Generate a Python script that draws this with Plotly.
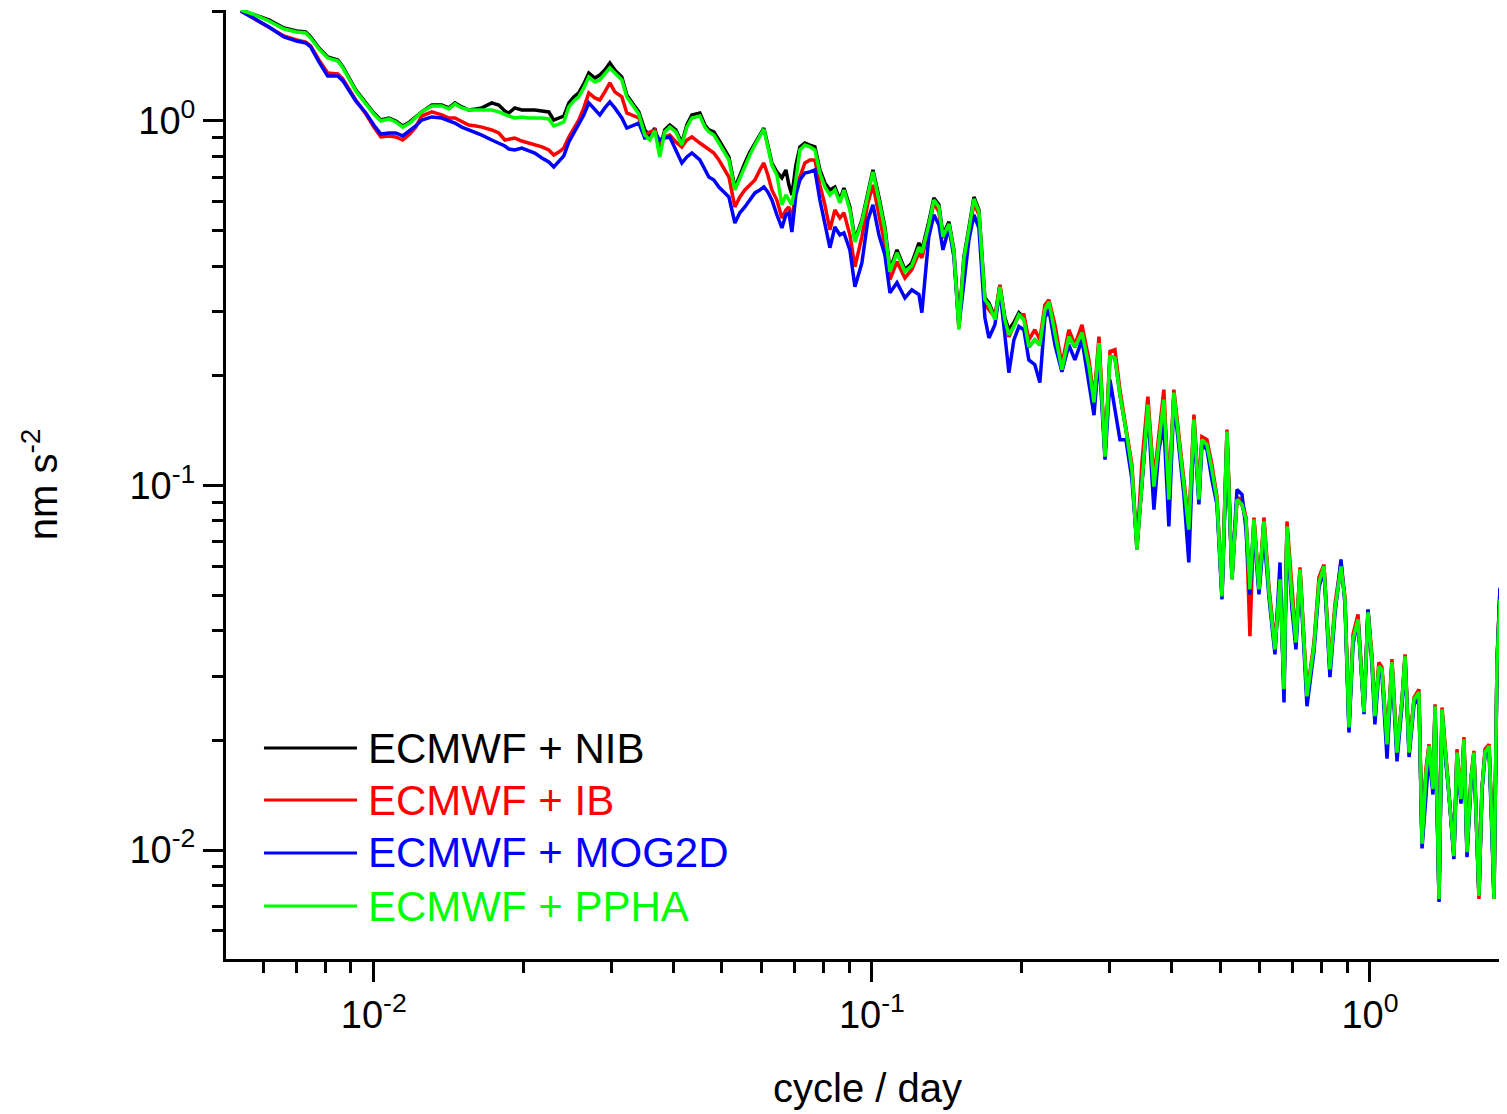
import plotly.graph_objects as go

# frequency (cycle/day), shared by all four spectra
freq = [
    0.00541, 0.00571, 0.00616, 0.00660, 0.00700, 0.00730, 0.00747, 0.00776, 0.00808, 0.00847,
    0.00867, 0.00920, 0.00964, 0.01000, 0.01033, 0.01072, 0.01107, 0.01143, 0.01181, 0.01214,
    0.01248, 0.01308, 0.01369, 0.01415, 0.01455, 0.01502, 0.01551, 0.01603, 0.01648, 0.01725,
    0.01782, 0.01833, 0.01867, 0.01919, 0.01982, 0.02047, 0.02105, 0.02175, 0.02246, 0.02298,
    0.02352, 0.02407, 0.02464, 0.02521, 0.02579, 0.02640, 0.02702, 0.02778, 0.02843, 0.02910,
    0.02978, 0.03047, 0.03148,
    0.03221, 0.03327, 0.03405, 0.03500, 0.03582, 0.03666, 0.03751, 0.03838, 0.03929, 0.04040,
    0.04154, 0.04251, 0.04351, 0.04515, 0.04621, 0.04707, 0.04817, 0.04930, 0.05045, 0.05163,
    0.05308, 0.05432, 0.05559, 0.05689, 0.05822, 0.05958, 0.06069, 0.06182, 0.06298, 0.06445,
    0.06597, 0.06720, 0.06813, 0.06909, 0.07038, 0.07169, 0.07337, 0.07508, 0.07683, 0.07864,
    0.08047, 0.08236, 0.08428, 0.08625, 0.08787, 0.09033, 0.09246, 0.09548, 0.09817, 0.1005,
    0.1033, 0.1062, 0.1087, 0.1123, 0.1165, 0.1203, 0.1243, 0.1260, 0.1301, 0.1332,
    0.1363, 0.1389, 0.1428, 0.1461, 0.1495, 0.1530, 0.1566, 0.1603, 0.1640, 0.1686,
    0.1718, 0.1766, 0.1807, 0.1849, 0.1884, 0.1928, 0.1973,
    0.2019, 0.2066, 0.2124, 0.2174, 0.2225, 0.2267, 0.2331, 0.2407, 0.2486, 0.2556,
    0.2641, 0.2728, 0.2792, 0.2857, 0.2938, 0.3006, 0.3076, 0.3148, 0.3236, 0.3327,
    0.3405, 0.3484, 0.3582, 0.3683, 0.3769, 0.3856, 0.3947, 0.4039, 0.4133, 0.4230,
    0.4328, 0.4432, 0.4535,
    0.4598, 0.4706, 0.4815, 0.4929, 0.5045, 0.5163, 0.5284, 0.5407, 0.5534, 0.5637,
    0.5741, 0.5849, 0.5986, 0.6125, 0.6269, 0.6445, 0.6597, 0.6720, 0.6813, 0.6973,
    0.7102, 0.7235, 0.7473, 0.7719, 0.7899, 0.8083, 0.8310, 0.8505, 0.8745, 0.8908,
    0.9074, 0.9245, 0.9461, 0.9727, 0.9908, 1.009, 1.023, 1.042, 1.057,
    1.082, 1.107, 1.133, 1.160, 1.176, 1.198, 1.226, 1.254, 1.272, 1.295,
    1.314, 1.338, 1.351, 1.376, 1.395, 1.421, 1.441, 1.474, 1.495, 1.523,
    1.544, 1.566, 1.595, 1.617, 1.655, 1.678, 1.702, 1.734, 1.758, 1.774,
    1.799, 1.824, 1.850, 1.867, 1.893,
]

# gravity residual spectra (nm s^-2)
psd_nib = [
    2.016, 1.966, 1.893, 1.800, 1.766, 1.755, 1.700, 1.586, 1.498, 1.470,
    1.406, 1.217, 1.121, 1.052, 1.006, 1.019, 1.000, 0.969, 0.994, 1.026,
    1.059, 1.106, 1.106, 1.086, 1.121, 1.093, 1.072, 1.079, 1.086, 1.121,
    1.106, 1.065, 1.052, 1.086, 1.072, 1.072, 1.072, 1.065, 1.059, 1.006,
    1.019, 1.032, 1.121, 1.164, 1.194, 1.264, 1.354, 1.312, 1.337, 1.380,
    1.443, 1.380, 1.320,
    1.179, 1.106, 1.059, 0.945, 0.910, 0.956, 0.833, 0.945, 0.975, 0.945,
    0.870, 0.975, 1.039, 1.052, 0.975, 0.945, 0.933, 0.887, 0.843, 0.797,
    0.655, 0.711, 0.767, 0.822, 0.870, 0.915, 0.956, 0.859, 0.767, 0.725,
    0.698, 0.734, 0.668, 0.627, 0.757, 0.849, 0.870, 0.859, 0.849, 0.734,
    0.676, 0.647, 0.659, 0.607, 0.655, 0.581, 0.472, 0.535, 0.639, 0.734,
    0.619, 0.512, 0.391, 0.443, 0.391, 0.408, 0.463, 0.443, 0.529, 0.615,
    0.589, 0.487, 0.529, 0.443, 0.276, 0.424, 0.509, 0.619, 0.570, 0.327,
    0.317, 0.289, 0.355, 0.289, 0.2675, 0.280, 0.298,
    0.289, 0.240, 0.251, 0.243, 0.3035, 0.319, 0.2625, 0.2078, 0.256, 0.240,
    0.2625, 0.212, 0.169, 0.246, 0.120, 0.2256, 0.224, 0.1775, 0.1423, 0.1106,
    0.0668, 0.1038, 0.1667, 0.0993, 0.1336, 0.1720, 0.0915, 0.1775, 0.1336, 0.0993,
    0.0757, 0.1516, 0.0915,
    0.1336, 0.1294, 0.1106, 0.0915, 0.0496, 0.1405, 0.0553, 0.0915, 0.0887, 0.0807,
    0.0519, 0.0807, 0.0519, 0.0797, 0.0509, 0.0355, 0.0553, 0.0276, 0.0772, 0.0487,
    0.0371, 0.0589, 0.0264, 0.0362, 0.0542, 0.0600, 0.0313, 0.0457, 0.0600, 0.0487,
    0.0217, 0.0378, 0.0429, 0.0239, 0.0449, 0.0334, 0.0233, 0.0319, 0.0313,
    0.0195, 0.0327, 0.0185, 0.0259, 0.0340, 0.0185, 0.0259, 0.0271, 0.0104, 0.0161,
    0.0193, 0.0147, 0.0248, 0.00734, 0.0243, 0.0178, 0.0144, 0.00962, 0.0185, 0.0138,
    0.0201, 0.00987, 0.0156, 0.0185, 0.00748, 0.0147, 0.0185, 0.0193, 0.0114, 0.00734,
    0.0327, 0.0519, 0.0259, 0.0116, 0.0300,
]

psd_ib = [
    2.003, 1.917, 1.811, 1.711, 1.668, 1.647, 1.606, 1.470, 1.354, 1.346,
    1.304, 1.142, 1.045, 0.962, 0.904, 0.910, 0.904, 0.887, 0.921, 0.962,
    1.032, 1.059, 1.039, 1.019, 1.019, 0.994, 0.975, 0.969, 0.962, 0.945,
    0.927, 0.887, 0.892, 0.898, 0.881, 0.870, 0.859, 0.849, 0.833, 0.807,
    0.822, 0.843, 0.904, 0.956, 1.006, 1.086, 1.194, 1.157, 1.142, 1.202,
    1.272, 1.202, 1.164,
    1.052, 1.032, 1.019, 0.915, 0.933, 0.945, 0.870, 0.904, 0.915, 0.876,
    0.849, 0.887, 0.904, 0.870, 0.849, 0.833, 0.817, 0.782, 0.743, 0.702,
    0.581, 0.619, 0.647, 0.668, 0.689, 0.734, 0.767, 0.711, 0.647, 0.607,
    0.542, 0.570, 0.581, 0.535, 0.647, 0.702, 0.767, 0.782, 0.782, 0.668,
    0.589, 0.503, 0.570, 0.542, 0.560, 0.487, 0.398, 0.481, 0.596, 0.668,
    0.553, 0.457, 0.367, 0.411, 0.371, 0.391, 0.435, 0.421, 0.509, 0.596,
    0.563, 0.478, 0.515, 0.435, 0.271, 0.403, 0.487, 0.596, 0.553, 0.313,
    0.3035, 0.289, 0.355, 0.281, 0.256, 0.276, 0.294,
    0.294, 0.251, 0.2675, 0.251, 0.313, 0.323, 0.276, 0.2145, 0.2675, 0.243,
    0.276, 0.221, 0.172, 0.256, 0.1216, 0.233, 0.2358, 0.1832, 0.1441, 0.1141,
    0.0676, 0.1156, 0.1753, 0.1038, 0.1379, 0.1832, 0.0944, 0.1832, 0.1379, 0.1019,
    0.0782, 0.1565, 0.0944,
    0.1361, 0.1336, 0.1141, 0.0933, 0.0503, 0.1423, 0.0560, 0.0927, 0.0915, 0.0817,
    0.0386, 0.0817, 0.0525, 0.0817, 0.0525, 0.0367, 0.0560, 0.0280, 0.0797, 0.0503,
    0.0378, 0.0596, 0.0267, 0.0371, 0.0560, 0.0607, 0.0317, 0.0472, 0.0615, 0.0493,
    0.0220, 0.0390, 0.0443, 0.0243, 0.0457, 0.0342, 0.0240, 0.0327, 0.0317,
    0.0199, 0.0334, 0.0189, 0.0259, 0.0344, 0.0189, 0.0262, 0.0276, 0.0104, 0.0167,
    0.0195, 0.0147, 0.0251, 0.00743, 0.0246, 0.0180, 0.0147, 0.00975, 0.0189, 0.0138,
    0.0204, 0.00993, 0.0158, 0.0187, 0.00734, 0.0147, 0.0189, 0.0195, 0.0116, 0.00734,
    0.0334, 0.0512, 0.0262, 0.0118, 0.0303,
]

psd_mog2d = [
    2.003, 1.917, 1.811, 1.700, 1.657, 1.637, 1.596, 1.452, 1.329, 1.329,
    1.288, 1.135, 1.052, 0.975, 0.921, 0.927, 0.927, 0.910, 0.939, 0.969,
    1.006, 1.026, 1.019, 1.000, 0.987, 0.962, 0.945, 0.933, 0.915, 0.887,
    0.870, 0.854, 0.838, 0.833, 0.843, 0.827, 0.817, 0.792, 0.772, 0.748,
    0.777, 0.802, 0.876, 0.927, 0.981, 1.039, 1.121, 1.072, 1.039, 1.086,
    1.128, 1.086, 1.019,
    0.956, 0.975, 0.987, 0.898, 0.904, 0.927, 0.887, 0.898, 0.904, 0.833,
    0.767, 0.797, 0.817, 0.782, 0.734, 0.702, 0.689, 0.659, 0.639, 0.619,
    0.525, 0.560, 0.581, 0.607, 0.635, 0.647, 0.659, 0.639, 0.607, 0.553,
    0.509, 0.553, 0.560, 0.496, 0.627, 0.689, 0.720, 0.725, 0.734, 0.607,
    0.519, 0.449, 0.512, 0.487, 0.493, 0.443, 0.351, 0.408, 0.535, 0.589,
    0.487, 0.429, 0.338, 0.360, 0.327, 0.344, 0.334, 0.298, 0.481, 0.553,
    0.519, 0.443, 0.509, 0.424, 0.273, 0.362, 0.472, 0.553, 0.509, 0.289,
    0.254, 0.276, 0.344, 0.259, 0.204, 0.251, 0.273,
    0.2675, 0.221, 0.2145, 0.1915, 0.289, 0.3035, 0.243, 0.205, 0.243, 0.221,
    0.251, 0.193, 0.156, 0.228, 0.1178, 0.1951, 0.1615, 0.1336, 0.1336, 0.1038,
    0.0689, 0.1006, 0.1615, 0.0859, 0.1255, 0.1469, 0.0772, 0.1720, 0.1294, 0.0944,
    0.0615, 0.1469, 0.0887,
    0.1294, 0.1255, 0.1038, 0.0887, 0.0487, 0.1336, 0.0560, 0.0975, 0.0944, 0.0757,
    0.0503, 0.0757, 0.0503, 0.0734, 0.0493, 0.0344, 0.0615, 0.0254, 0.0757, 0.0457,
    0.0355, 0.0570, 0.0248, 0.0351, 0.0525, 0.0589, 0.0298, 0.0443, 0.0627, 0.0472,
    0.0210, 0.0367, 0.0429, 0.0236, 0.0457, 0.0323, 0.0221, 0.0309, 0.0303,
    0.0178, 0.0317, 0.0175, 0.0251, 0.0334, 0.0180, 0.0251, 0.0259, 0.0101, 0.0138,
    0.0183, 0.0142, 0.0240, 0.00720, 0.0236, 0.0172, 0.0142, 0.00944, 0.0180, 0.0134,
    0.0195, 0.00956, 0.0152, 0.0180, 0.00748, 0.0145, 0.0183, 0.0189, 0.0111, 0.00743,
    0.0323, 0.0525, 0.0251, 0.0114, 0.0294,
]

psd_ppha = [
    2.016, 1.966, 1.881, 1.788, 1.755, 1.744, 1.689, 1.576, 1.489, 1.461,
    1.398, 1.209, 1.114, 1.045, 1.000, 1.013, 0.994, 0.962, 0.987, 1.019,
    1.059, 1.100, 1.100, 1.079, 1.114, 1.086, 1.072, 1.072, 1.072, 1.072,
    1.059, 1.039, 1.032, 1.019, 1.026, 1.019, 1.019, 1.019, 1.013, 0.969,
    0.981, 0.994, 1.093, 1.135, 1.164, 1.232, 1.320, 1.280, 1.296, 1.346,
    1.398, 1.354, 1.296,
    1.164, 1.093, 1.045, 0.915, 0.887, 0.939, 0.797, 0.933, 0.962, 0.933,
    0.859, 0.962, 1.019, 1.032, 0.962, 0.933, 0.915, 0.870, 0.827, 0.782,
    0.647, 0.698, 0.753, 0.807, 0.859, 0.904, 0.950, 0.849, 0.757, 0.711,
    0.589, 0.627, 0.607, 0.589, 0.689, 0.833, 0.859, 0.849, 0.833, 0.720,
    0.659, 0.627, 0.647, 0.596, 0.647, 0.570, 0.466, 0.529, 0.627, 0.725,
    0.607, 0.503, 0.386, 0.435, 0.386, 0.401, 0.451, 0.435, 0.519, 0.607,
    0.581, 0.481, 0.522, 0.438, 0.2675, 0.419, 0.503, 0.611, 0.563, 0.323,
    0.313, 0.285, 0.351, 0.285, 0.259, 0.273, 0.294,
    0.285, 0.240, 0.251, 0.243, 0.3035, 0.319, 0.2625, 0.2078, 0.256, 0.240,
    0.2625, 0.212, 0.169, 0.246, 0.120, 0.2256, 0.224, 0.1775, 0.1423, 0.1106,
    0.0668, 0.1038, 0.1667, 0.0993, 0.1336, 0.1720, 0.0915, 0.1798, 0.1336, 0.0993,
    0.0757, 0.1516, 0.0915,
    0.1336, 0.1294, 0.1106, 0.0915, 0.0496, 0.1405, 0.0553, 0.0915, 0.0887, 0.0807,
    0.0519, 0.0807, 0.0519, 0.0797, 0.0509, 0.0355, 0.0553, 0.0276, 0.0772, 0.0487,
    0.0371, 0.0589, 0.0264, 0.0362, 0.0542, 0.0600, 0.0313, 0.0457, 0.0600, 0.0487,
    0.0217, 0.0378, 0.0429, 0.0239, 0.0449, 0.0334, 0.0233, 0.0319, 0.0313,
    0.0195, 0.0327, 0.0185, 0.0259, 0.0340, 0.0185, 0.0259, 0.0271, 0.0104, 0.0161,
    0.0193, 0.0147, 0.0248, 0.00734, 0.0243, 0.0178, 0.0144, 0.00962, 0.0185, 0.0138,
    0.0201, 0.00987, 0.0156, 0.0185, 0.00748, 0.0147, 0.0185, 0.0193, 0.0114, 0.00734,
    0.0327, 0.0487, 0.0259, 0.0116, 0.0300,
]

series_names = ["ECMWF + NIB", "ECMWF + IB", "ECMWF + MOG2D", "ECMWF + PPHA"]
series_colors = ["#000000", "#ff0000", "#0000ff", "#00ff00"]
series_values = [psd_nib, psd_ib, psd_mog2d, psd_ppha]

major_ticks = [0.01, 0.1, 1]
major_text = ["10<sup>-2</sup>", "10<sup>-1</sup>", "10<sup>0</sup>"]
minor_ticks = [m * 10.0 ** e for e in range(-3, 1) for m in range(2, 10)]

FONT = "Liberation Sans, Arial, sans-serif"

fig = go.Figure()
for name, color, vals in zip(series_names, series_colors, series_values):
    fig.add_trace(
        go.Scatter(x=freq, y=vals, mode="lines", name=name,
                   line=dict(color=color, width=3.5))
    )

axis_common = dict(
    type="log",
    showgrid=False,
    zeroline=False,
    showline=True,
    linecolor="black",
    linewidth=3,
    ticks="outside",
    ticklen=20,
    tickwidth=3,
    tickcolor="black",
    tickmode="array",
    tickvals=major_ticks,
    ticktext=major_text,
    tickfont=dict(family=FONT, size=38, color="black"),
    minor=dict(ticks="outside", ticklen=11, tickwidth=3, tickcolor="black",
               tickmode="array", tickvals=minor_ticks, showgrid=False),
)

fig.update_xaxes(
    **axis_common,
    range=[-2.2967, 0.2791],
    title=dict(text="cycle / day", font=dict(family=FONT, size=40, color="black"), standoff=40),
)
fig.update_yaxes(
    **axis_common,
    range=[-2.299, 0.3045],
    title=dict(text="nm s<sup>-2</sup>", font=dict(family=FONT, size=40, color="black"), standoff=60),
)

# legend drawn inside the plot, bottom left, with long line samples
legend_rows = [0.2223, 0.1675, 0.1117, 0.0558]
for name, color, yrow in zip(series_names, series_colors, legend_rows):
    fig.add_shape(type="line", xref="paper", yref="paper",
                  x0=0.0296, x1=0.1021, y0=yrow, y1=yrow,
                  line=dict(color=color, width=3))
    fig.add_annotation(xref="paper", yref="paper", x=0.1090, y=yrow,
                       xanchor="left", yanchor="middle", showarrow=False,
                       text=name, font=dict(family=FONT, size=42, color=color))

fig.update_layout(
    width=1501,
    height=1106,
    margin=dict(l=218, r=0, t=2, b=155),
    plot_bgcolor="white",
    paper_bgcolor="white",
    showlegend=False,
)

fig.write_html("out.html")
